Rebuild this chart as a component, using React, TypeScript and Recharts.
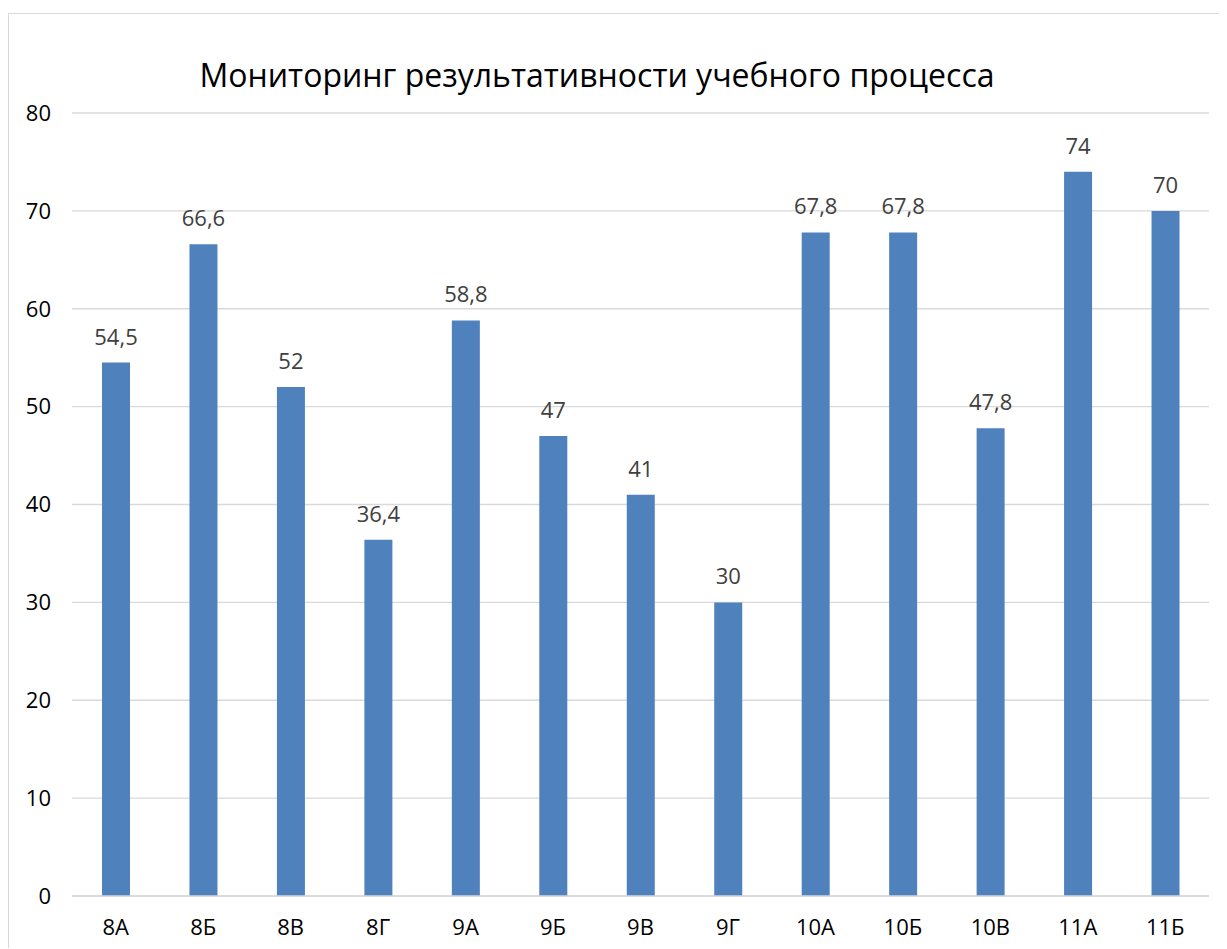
import React from 'react';
import { BarChart, Bar, XAxis, YAxis, CartesianGrid, LabelList } from 'recharts';

const categories = ['8А', '8Б', '8В', '8Г', '9А', '9Б', '9В', '9Г', '10А', '10Б', '10В', '11А', '11Б'];
const values = [54.5, 66.6, 52, 36.4, 58.8, 47, 41, 30, 67.8, 67.8, 47.8, 74, 70];
const yTicks = [0, 10, 20, 30, 40, 50, 60, 70, 80];
const title = 'Мониторинг результативности учебного процесса';

const data = categories.map((c, i) => ({ name: c, value: values[i] }));

const FONT = '"Open Sans", sans-serif';

const fmt = (v: any) => String(v).replace('.', ',');

export default function App() {
  return (
    <div style={{ paddingTop: 5 }}>
      <div
        style={{
          position: 'relative',
          width: 1218,
          height: 934,
          borderTop: '1px solid #d9d9d9',
          borderLeft: '1px solid #d9d9d9',
          background: '#fff',
        }}
      >
        <svg
          width={1218}
          height={100}
          style={{ position: 'absolute', left: 0, top: 0, pointerEvents: 'none' }}
        >
          <text
            x={597 - 9}
            y={73}
            textAnchor="middle"
            fontFamily={FONT}
            fontSize={32}
            fill="#000"
          >
            {title}
          </text>
        </svg>
        <BarChart
          width={1218}
          height={934}
          data={data}
          margin={{ top: 99, right: 18, bottom: 12, left: 0 }}
        >
          <CartesianGrid vertical={false} stroke="#d9d9d9" strokeWidth={1.3} />
          <XAxis
            dataKey="name"
            axisLine={{ stroke: '#d9d9d9', strokeWidth: 1.5 }}
            tickLine={false}
            tickSize={0}
            tickMargin={23}
            height={40}
            interval={0}
            tick={{ fill: '#000', fontSize: 22, fontFamily: FONT }}
          />
          <YAxis
            width={63}
            domain={[0, 80]}
            ticks={yTicks}
            axisLine={false}
            tickLine={false}
            tickSize={0}
            tickMargin={21}
            tick={{ fill: '#000', fontSize: 22, fontFamily: FONT }}
          />
          <Bar dataKey="value" fill="#4F81BD" barSize={28} isAnimationActive={false}>
            <LabelList
              dataKey="value"
              position="top"
              offset={18}
              formatter={fmt}
              style={{ fill: '#404040', fontSize: 22, fontFamily: FONT }}
            />
          </Bar>
        </BarChart>
      </div>
    </div>
  );
}
